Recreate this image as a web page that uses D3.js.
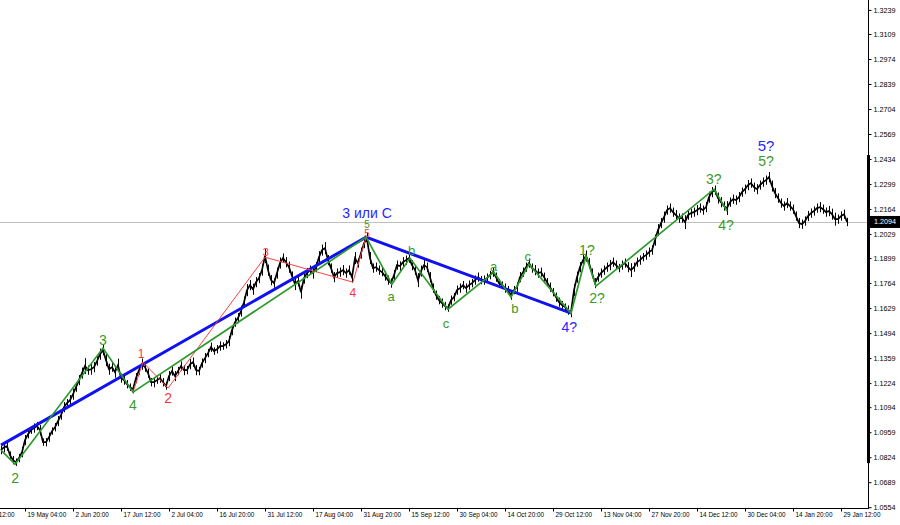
<!DOCTYPE html>
<html>
<head>
<meta charset="utf-8">
<script src="https://cdn.jsdelivr.net/npm/d3@7"></script>
<style>
  body { margin: 0; background: #fff; }
  svg { display: block; font-family: "Liberation Sans", Arial, sans-serif; }
</style>
</head>
<body>
<svg id="chart" width="900" height="525"></svg>
<script>
// price samples (every ~5 H4 bars)
const closes = [
  1.0862, 1.0878, 1.0884, 1.0835, 1.0808, 1.0797, 1.0819, 1.0851, 1.0916, 1.0948,
  1.0970, 1.0981, 1.0992, 1.0970, 1.0905, 1.0905, 1.0932, 1.0965, 1.0986, 1.1019,
  1.1051, 1.1094, 1.1116, 1.1132, 1.1164, 1.1202, 1.1240, 1.1278, 1.1316, 1.1294,
  1.1299, 1.1310, 1.1343, 1.1380, 1.1402, 1.1348, 1.1299, 1.1310, 1.1283, 1.1321,
  1.1251, 1.1240, 1.1218, 1.1202, 1.1191, 1.1251, 1.1294, 1.1326, 1.1310, 1.1278,
  1.1229, 1.1229, 1.1240, 1.1251, 1.1229, 1.1208, 1.1262, 1.1289, 1.1262, 1.1289,
  1.1316, 1.1294, 1.1294, 1.1326, 1.1337, 1.1294, 1.1289, 1.1332, 1.1359, 1.1386,
  1.1418, 1.1397, 1.1407, 1.1424, 1.1424, 1.1434, 1.1451, 1.1510, 1.1553, 1.1575,
  1.1613, 1.1661, 1.1726, 1.1753, 1.1731, 1.1769, 1.1791, 1.1834, 1.1910, 1.1834,
  1.1780, 1.1764, 1.1818, 1.1872, 1.1899, 1.1877, 1.1850, 1.1802, 1.1759, 1.1775,
  1.1715, 1.1791, 1.1818, 1.1834, 1.1818, 1.1850, 1.1904, 1.1942, 1.1953, 1.1888,
  1.1845, 1.1796, 1.1818, 1.1823, 1.1834, 1.1818, 1.1834, 1.1796, 1.1899, 1.1872,
  1.1926, 1.1980, 1.2001, 1.1899, 1.1845, 1.1850, 1.1834, 1.1823, 1.1802, 1.1780,
  1.1764, 1.1807, 1.1861, 1.1856, 1.1877, 1.1888, 1.1899, 1.1861, 1.1834, 1.1780,
  1.1829, 1.1861, 1.1850, 1.1796, 1.1737, 1.1699, 1.1672, 1.1656, 1.1640, 1.1629,
  1.1672, 1.1688, 1.1726, 1.1737, 1.1753, 1.1737, 1.1753, 1.1764, 1.1780, 1.1796,
  1.1780, 1.1780, 1.1791, 1.1807, 1.1823, 1.1796, 1.1764, 1.1753, 1.1737, 1.1726,
  1.1699, 1.1726, 1.1742, 1.1796, 1.1823, 1.1850, 1.1872, 1.1845, 1.1834, 1.1818,
  1.1823, 1.1796, 1.1769, 1.1742, 1.1715, 1.1688, 1.1661, 1.1645, 1.1634, 1.1618,
  1.1607, 1.1726, 1.1796, 1.1850, 1.1888, 1.1910, 1.1872, 1.1818, 1.1764, 1.1796,
  1.1818, 1.1834, 1.1850, 1.1861, 1.1877, 1.1861, 1.1845, 1.1861, 1.1872, 1.1850,
  1.1834, 1.1850, 1.1877, 1.1888, 1.1904, 1.1915, 1.1931, 1.1942, 1.1996, 1.2050,
  1.2088, 1.2120, 1.2158, 1.2169, 1.2147, 1.2131, 1.2115, 1.2115, 1.2093, 1.2131,
  1.2142, 1.2147, 1.2158, 1.2169, 1.2158, 1.2174, 1.2228, 1.2255, 1.2266, 1.2223,
  1.2201, 1.2180, 1.2169, 1.2201, 1.2217, 1.2212, 1.2228, 1.2255, 1.2271, 1.2293,
  1.2304, 1.2282, 1.2271, 1.2293, 1.2309, 1.2320, 1.2336, 1.2288, 1.2250, 1.2223,
  1.2196, 1.2180, 1.2196, 1.2180, 1.2163, 1.2126, 1.2088, 1.2082, 1.2099, 1.2126,
  1.2142, 1.2153, 1.2169, 1.2174, 1.2163, 1.2147, 1.2153, 1.2136, 1.2109, 1.2109,
  1.2126, 1.2136, 1.2094
];

// high-low span of each sample, in pips
const ranges = [
  45, 55, 50, 40, 45, 40, 45, 55, 55, 45,
  40, 50, 45, 55, 40, 45, 50, 40, 45, 55,
  50, 55, 45, 55, 60, 50, 55, 60, 85, 50,
  60, 55, 50, 60, 55, 65, 60, 50, 60, 70,
  50, 50, 45, 40, 45, 55, 50, 60, 50, 50,
  45, 55, 40, 50, 45, 40, 55, 50, 55, 45,
  50, 55, 45, 55, 50, 55, 45, 50, 55, 45,
  50, 40, 45, 50, 40, 45, 55, 55, 50, 55,
  60, 60, 65, 55, 60, 55, 55, 60, 75, 60,
  55, 50, 60, 60, 50, 55, 60, 50, 65, 55,
  70, 60, 55, 50, 60, 55, 65, 60, 65, 55,
  50, 55, 50, 50, 55, 50, 50, 60, 65, 50,
  60, 55, 65, 65, 50, 50, 50, 45, 50, 50,
  50, 55, 50, 50, 55, 50, 50, 55, 50, 75,
  60, 55, 50, 55, 50, 50, 45, 50, 45, 40,
  50, 45, 50, 50, 45, 50, 50, 45, 50, 50,
  45, 50, 50, 45, 50, 50, 45, 40, 50, 45,
  50, 45, 50, 55, 50, 50, 50, 50, 55, 50,
  50, 50, 45, 50, 45, 50, 50, 45, 40, 50,
  55, 65, 60, 55, 55, 60, 55, 50, 55, 50,
  50, 50, 50, 55, 50, 50, 45, 50, 50, 55,
  75, 50, 50, 50, 45, 50, 50, 50, 60, 65,
  55, 60, 50, 50, 50, 55, 50, 50, 75, 50,
  50, 50, 55, 50, 50, 55, 60, 55, 50, 60,
  55, 50, 75, 50, 50, 50, 55, 50, 50, 55,
  50, 50, 55, 50, 50, 50, 55, 60, 55, 50,
  50, 50, 55, 50, 50, 50, 55, 50, 50, 55,
  50, 50, 50, 55, 50, 50, 55, 60, 70, 50,
  50, 50, 45
];

const priceTicks = ['1.3239', '1.3109', '1.2974', '1.2839', '1.2704', '1.2569', '1.2434',
  '1.2299', '1.2164', '1.2029', '1.1899', '1.1764', '1.1629', '1.1494', '1.1359',
  '1.1224', '1.1094', '1.0959', '1.0824', '1.0689', '1.0554'];
const dateTicks = ['4 May 12:00', '19 May 04:00', '2 Jun 20:00', '17 Jun 12:00', '2 Jul 04:00',
  '16 Jul 20:00', '31 Jul 12:00', '17 Aug 04:00', '31 Aug 20:00', '15 Sep 12:00',
  '30 Sep 04:00', '14 Oct 20:00', '29 Oct 12:00', '13 Nov 04:00', '27 Nov 20:00',
  '14 Dec 12:00', '30 Dec 04:00', '14 Jan 20:00', '29 Jan 12:00'];
const lastPrice = 1.2094;
const visibleHigh = 1.2455, visibleLow = 1.0792;

// wave pivots: [sample, price]
const blueWave = [[0, 1.0889], [121.7, 1.2012], [190, 1.1602]];
const greenWave = [[0, 1.0862], [4.7, 1.0786], [34, 1.1413], [44, 1.1175], [121.7, 1.2012],
  [130.3, 1.1758], [136.3, 1.1899], [149, 1.1623], [164.3, 1.1823], [170, 1.1688],
  [176, 1.1866], [190, 1.1602], [195, 1.1910], [198.3, 1.1748], [237.7, 1.2271], [242, 1.2153]];
const redWave = [[44, 1.1175], [47.3, 1.1337], [55.7, 1.1197], [88, 1.1904], [117.3, 1.1769], [121.7, 1.2012]];

// wave labels: [text, sample, price]
const blueLabels = [['3 или C', 122, 1.2140], ['4?', 189.4, 1.1528], ['5?', 255, 1.2509]];
const greenLabels = [['2', 4.7, 1.0711], ['3', 34, 1.1456], ['4', 44, 1.1105], ['5', 122, 1.2082],
  ['a', 130, 1.1694], ['b', 136.9, 1.1942], ['c', 148.3, 1.1548], ['a', 164.2, 1.1856],
  ['b', 171.3, 1.1627], ['c', 175.6, 1.1910], ['1?', 195.3, 1.1942], ['2?', 198.7, 1.1684],
  ['3?', 237.6, 1.2324], ['4?', 241.7, 1.2077], ['5?', 255, 1.2423]];
const redLabels = [['1', 46.7, 1.1380], ['2', 55.7, 1.1143], ['3', 88.3, 1.1931], ['4', 117.3, 1.1710], ['5', 122, 1.2033]];

const plotRight = 868, plotBottom = 508;

const svg = d3.select('#chart');

const x = d3.scaleLinear().domain([0, 287]).range([1, 862]);
const y = d3.scaleLinear().domain([1.0554, 1.3239]).range([507.2, 9.9]);

svg.append('defs').append('clipPath').attr('id', 'plot')
  .append('rect').attr('x', 0).attr('y', 0).attr('width', plotRight).attr('height', plotBottom);

const plot = svg.append('g').attr('clip-path', 'url(#plot)');

// last price line
plot.append('line')
  .attr('x1', 0).attr('x2', plotRight)
  .attr('y1', Math.round(y(lastPrice)) + 0.5).attr('y2', Math.round(y(lastPrice)) + 0.5)
  .attr('stroke', '#c0c0c0').attr('stroke-width', 1);

// price bars
plot.append('g')
  .selectAll('line')
  .data(closes)
  .enter()
  .append('line')
  .attr('x1', (d, i) => Math.round(x(i)) + 0.5)
  .attr('x2', (d, i) => Math.round(x(i)) + 0.5)
  .attr('y1', (d, i) => y(d + ranges[i] / 20000))
  .attr('y2', (d, i) => y(d - ranges[i] / 20000))
  .attr('stroke', '#000').attr('stroke-width', 1);

plot.append('path')
  .datum(closes)
  .attr('d', d3.line().x((d, i) => x(i)).y(d => y(d)))
  .attr('fill', 'none').attr('stroke', '#000').attr('stroke-width', 1.7);

const waveLine = d3.line().x(d => x(d[0])).y(d => y(d[1]));

plot.append('path').datum(blueWave).attr('d', waveLine)
  .attr('fill', 'none').attr('stroke', '#1010f0').attr('stroke-width', 3);
plot.append('path').datum(redWave).attr('d', waveLine)
  .attr('fill', 'none').attr('stroke', '#ff4040').attr('stroke-width', 1);
plot.append('path').datum(greenWave).attr('d', waveLine)
  .attr('fill', 'none').attr('stroke', '#2a9a2a').attr('stroke-width', 1.7);

// labels
function addLabels(list, color, sizes) {
  plot.append('g')
    .selectAll('text')
    .data(list)
    .enter()
    .append('text')
    .attr('x', d => x(d[1]))
    .attr('y', d => y(d[2]))
    .attr('text-anchor', 'middle')
    .attr('dominant-baseline', 'central')
    .attr('fill', color)
    .style('font-size', d => (sizes[d[0]] || 14) + 'px')
    .text(d => d[0]);
}
addLabels(blueLabels, '#2626ff', { '3 или C': 14, '5?': 15 });
addLabels(greenLabels, '#3a9a26', { '5': 10, 'a': 13, 'b': 13, 'c': 13 });
addLabels(redLabels, '#ff3535', { '1': 12, '3': 11, '4': 12, '5': 10 });

// axes frame
svg.append('line').attr('x1', 0).attr('x2', plotRight + 1).attr('y1', plotBottom + 0.5).attr('y2', plotBottom + 0.5)
  .attr('stroke', '#000');
svg.append('line').attr('x1', plotRight + 0.5).attr('x2', plotRight + 0.5).attr('y1', 0).attr('y2', plotBottom + 1)
  .attr('stroke', '#000');
svg.append('rect')
  .attr('x', plotRight - 1).attr('width', 3)
  .attr('y', y(visibleHigh)).attr('height', y(visibleLow) - y(visibleHigh))
  .attr('fill', '#000');

const yAxis = svg.append('g')
  .attr('transform', `translate(${plotRight + 0.5},0)`)
  .call(d3.axisRight(y).tickValues(priceTicks.map(Number)).tickFormat(d3.format('.4f')).tickSize(3).tickPadding(2));
yAxis.select('.domain').remove();
yAxis.selectAll('text').style('font-size', '7.2px').attr('fill', '#000').attr('font-family', '"Liberation Sans", Arial, sans-serif');

const xAxis = svg.append('g')
  .attr('transform', `translate(0,${plotBottom + 0.5})`)
  .call(d3.axisBottom(x).tickValues(d3.range(-8, 281, 16)).tickFormat((d, k) => dateTicks[k]).tickSize(3).tickPadding(2));
xAxis.select('.domain').remove();
xAxis.selectAll('text')
  .attr('text-anchor', 'start')
  .attr('dx', 2)
  .attr('y', 4)
  .style('font-size', '6.4px')
  .attr('fill', '#000')
  .attr('font-family', '"Liberation Sans", Arial, sans-serif');

// current price tag
const tag = svg.append('g').attr('transform', `translate(${plotRight + 1},${y(lastPrice)})`);
tag.append('rect').attr('x', 0).attr('y', -6).attr('width', 31).attr('height', 12).attr('fill', '#000');
tag.append('text').attr('x', 5).attr('y', 0).attr('dominant-baseline', 'central')
  .attr('fill', '#fff').style('font-size', '7.2px').text(d3.format('.4f')(lastPrice));
</script>
</body>
</html>
